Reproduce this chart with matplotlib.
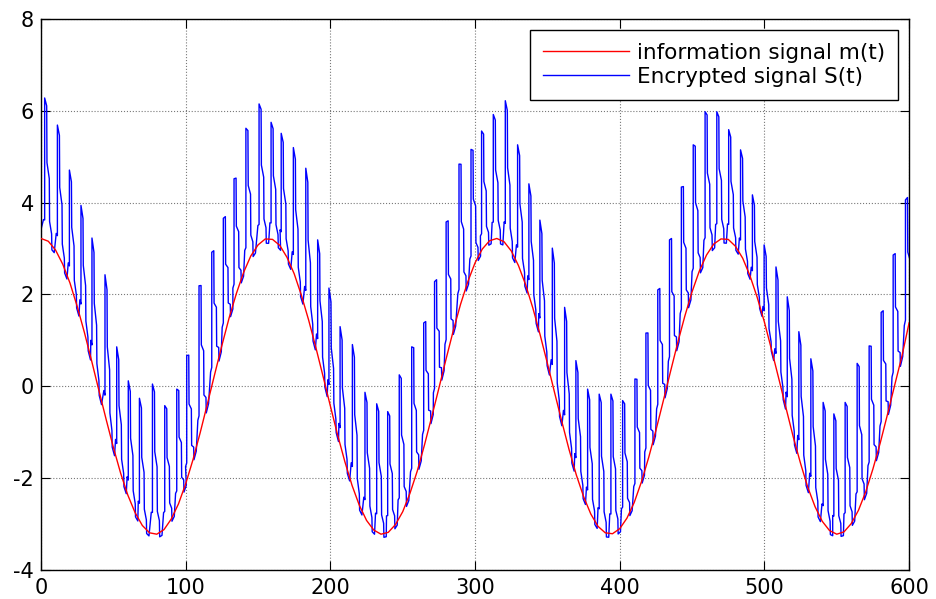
import numpy as np
import matplotlib.pyplot as plt

plt.rcParams['axes.unicode_minus'] = False

# information signal m(t), every 5 samples
t_info = np.arange(0, 601, 5)
m_vals = [3.22, 3.16, 2.97, 2.66, 2.25, 1.74, 1.17, 0.55, -0.09, -0.72,
          -1.33, -1.89, -2.37, -2.75, -3.03, -3.19, -3.22, -3.12, -2.89, -2.56,
          -2.12, -1.60, -1.01, -0.38, 0.26, 0.89, 1.49, 2.02, 2.48, 2.84,
          3.08, 3.21, 3.20, 3.07, 2.81, 2.45, 1.98, 1.44, 0.84, 0.21,
          -0.43, -1.06, -1.64, -2.16, -2.59, -2.92, -3.13, -3.22, -3.18, -3.01,
          -2.73, -2.33, -1.85, -1.28, -0.67, -0.04, 0.60, 1.22, 1.79, 2.28,
          2.69, 2.99, 3.17, 3.22, 3.15, 2.95, 2.63, 2.21, 1.70, 1.12,
          0.50, -0.14, -0.77, -1.38, -1.93, -2.40, -2.78, -3.05, -3.19, -3.21,
          -3.10, -2.87, -2.53, -2.08, -1.55, -0.96, -0.33, 0.31, 0.94, 1.53,
          2.06, 2.51, 2.86, 3.10, 3.21, 3.20, 3.05, 2.79, 2.41, 1.94,
          1.40, 0.79, 0.16, -0.48, -1.11, -1.68, -2.20, -2.62, -2.94, -3.14,
          -3.22, -3.17, -2.99, -2.70, -2.30, -1.80, -1.24, -0.62, 0.02, 0.65,
          1.38]

# encrypted signal S(t): position and top of each spike
spike_t = [2.5, 11.3, 19.6, 27.6, 35.2, 44.2, 52.3, 60.3, 68.0, 77.0,
           85.5, 93.8, 100.7, 109.2, 118.0, 126.0, 133.4, 141.6, 150.7, 159.0,
           166.0, 174.4, 183.0, 191.2, 199.0, 206.7, 215.2, 223.9, 232.0, 239.6,
           247.6, 256.2, 264.5, 272.0, 280.0, 288.9, 297.2, 304.5, 312.6, 320.9,
           329.4, 337.2, 344.8, 353.4, 361.9, 369.7, 377.8, 385.8, 393.9, 402.0,
           410.5, 418.1, 426.3, 434.4, 442.6, 450.8, 459.0, 467.1, 475.3, 483.5,
           491.7, 499.8, 508.0, 515.8, 523.8, 532.1, 540.6, 548.0, 555.8, 564.1,
           572.4, 580.7, 589.0, 597.5]
spike_peak = [6.28, 5.69, 4.71, 3.94, 3.23, 2.43, 0.86, 0.12, -0.26, 0.05,
              -0.42, -0.06, 0.67, 2.19, 2.92, 3.66, 4.52, 5.62, 6.15, 5.75,
              5.51, 5.20, 4.75, 3.19, 2.14, 1.30, 0.91, -0.13, -0.38, -0.55,
              0.25, 0.86, 1.38, 2.28, 3.58, 4.84, 5.16, 5.56, 5.92, 6.22,
              5.26, 4.41, 3.62, 3.01, 1.72, 0.56, -0.06, -0.17, -0.17, -0.31,
              0.16, 1.16, 2.10, 3.19, 4.34, 5.26, 5.98, 5.98, 5.59, 5.15,
              4.17, 3.08, 2.60, 1.95, 1.19, 0.60, -0.35, -0.60, -0.35, 0.50,
              0.88, 1.61, 2.86, 4.06]

# shape of one pulse: (time after spike, fraction of the spike height above m(t))
pulse = [(-0.8, 0.14), (0.0, 0.14), (0.0, 1.0), (1.4, 0.95), (1.6, 0.55),
         (3.2, 0.45), (3.4, 0.15), (4.8, 0.08), (5.0, -0.03), (6.6, -0.03)]


def m_at(t):
    return np.interp(t, t_info, m_vals)


s_t = [0.0]
s_v = [m_at(0.0) + 0.2]
for ts, peak in zip(spike_t, spike_peak):
    amp = peak - m_at(ts)
    for dt, frac in pulse:
        s_t.append(ts + dt)
        s_v.append(m_at(ts + dt) + frac * amp)

fig = plt.figure(figsize=(9.37, 5.99), dpi=100)
ax = fig.add_axes([0.0438, 0.0484, 0.9264, 0.9199])

ax.plot(t_info, m_vals, color='red', linewidth=1.0, label='information signal m(t)', zorder=3)
ax.plot(s_t, s_v, color='blue', linewidth=1.0, label='Encrypted signal S(t)', zorder=2)

ax.set_xlim(0, 600)
ax.set_ylim(-4, 8)
ax.set_xticks(np.arange(0, 601, 100))
ax.set_yticks(np.arange(-4, 9, 2))
ax.grid(True, linestyle=':', color='#404040', linewidth=0.8, alpha=0.7)
ax.tick_params(direction='in', length=6.5, width=0.8, top=True, right=True,
               labelsize=15)
ax.tick_params(axis='x', pad=6)
ax.tick_params(axis='y', pad=5)
for sp in ax.spines.values():
    sp.set_linewidth(1.0)

leg = ax.legend(loc='upper right', fontsize=15.5, fancybox=False, framealpha=1,
                edgecolor='black', handlelength=4.0, handletextpad=0.4,
                labelspacing=0.2, borderaxespad=0.5, borderpad=0.6)
leg.get_frame().set_linewidth(1.0)

fig.savefig('out.png', dpi=100)
